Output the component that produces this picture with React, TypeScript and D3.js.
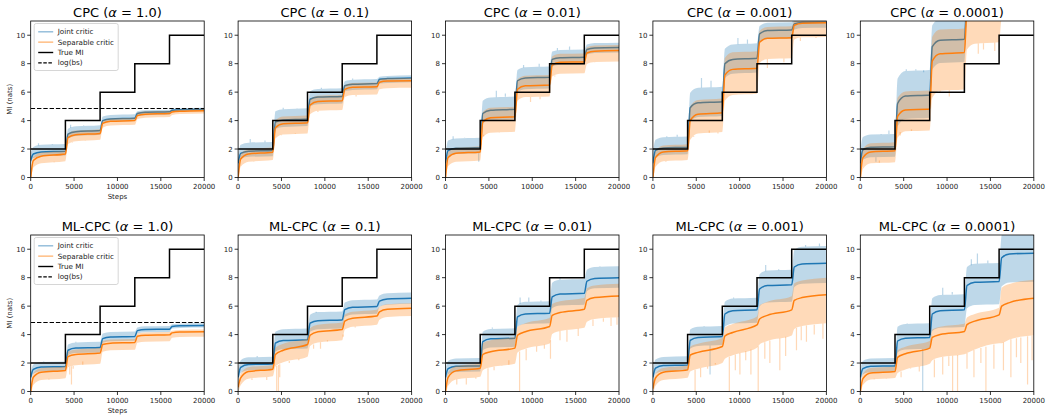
import React from "react";
import * as d3 from "d3";

// segment layout of the true-MI staircase
const SEG_STARTS = [0, 4000, 8000, 12000, 16000];
const SAMPLE_OFFSETS = [300, 1200, 4000];
const TRUE_MI = [2, 4, 6, 8, 10];
const LOG_BS = 4.85;
const X_TICKS = [0, 5000, 10000, 15000, 20000];
const Y_TICKS = [0, 2, 4, 6, 8, 10];
const ALPHAS = ["1.0", "0.1", "0.01", "0.001", "0.0001"];
const METHODS = ["CPC", "ML-CPC"];

// smoothed estimates: per panel, per segment [at +300, at +1200, at end]
const CPC_JOINT_START = [1.2, 1.0, 1.0, 1.0, 1.0];
const CPC_JOINT = [
  [[1.65, 1.8, 1.85], [3.05, 3.22, 3.3], [4.0, 4.12, 4.17], [4.5, 4.58, 4.62], [4.72, 4.77, 4.8]],
  [[1.7, 1.85, 1.9], [3.9, 4.05, 4.12], [5.5, 5.65, 5.7], [6.45, 6.55, 6.6], [6.9, 6.95, 7.0]],
  [[1.9, 2.05, 2.1], [4.5, 4.72, 4.8], [6.8, 7.0, 7.05], [8.3, 8.42, 8.45], [9.0, 9.1, 9.13]],
  [[1.9, 2.08, 2.13], [4.9, 5.25, 5.33], [8.0, 8.3, 8.38], [10.1, 10.33, 10.37], [10.8, 10.9, 10.92]],
  [[1.95, 2.12, 2.16], [5.2, 5.72, 5.8], [9.2, 9.65, 9.72], [12.5, 12.8, 12.9], [13.5, 13.6, 13.6]],
];
const CPC_SEP_START = [0.0, 0.0, 0.0, 0.0, 0.0];
const CPC_SEP = [
  [[1.2, 1.5, 1.65], [2.8, 3.0, 3.1], [3.8, 3.95, 4.0], [4.35, 4.45, 4.5], [4.6, 4.66, 4.7]],
  [[1.3, 1.65, 1.78], [3.5, 3.78, 3.85], [5.1, 5.35, 5.4], [6.2, 6.35, 6.38], [6.7, 6.78, 6.8]],
  [[1.4, 1.7, 1.8], [3.9, 4.2, 4.27], [6.2, 6.45, 6.5], [7.9, 8.1, 8.12], [8.75, 8.88, 8.92]],
  [[1.4, 1.8, 1.88], [4.0, 4.45, 4.55], [7.2, 7.6, 7.68], [9.5, 9.78, 9.83], [10.7, 10.85, 10.88]],
  [[1.4, 1.8, 1.88], [4.3, 4.75, 4.81], [8.2, 8.7, 8.78], [11.8, 12.2, 12.3], [13.0, 13.2, 13.3]],
];
const ML_JOINT_START = [1.0, 1.0, 1.0, 1.0, 1.0];
const ML_JOINT = [
  [[1.55, 1.72, 1.76], [2.9, 3.05, 3.09], [3.72, 3.83, 3.86], [4.28, 4.36, 4.38], [4.57, 4.62, 4.64]],
  [[1.7, 1.9, 1.94], [3.4, 3.58, 3.63], [4.8, 4.98, 5.03], [5.75, 5.92, 5.97], [6.35, 6.5, 6.56]],
  [[1.6, 1.77, 1.8], [3.5, 3.7, 3.75], [5.25, 5.45, 5.5], [6.65, 6.85, 6.9], [7.75, 7.95, 8.0]],
  [[1.65, 1.83, 1.87], [3.6, 3.8, 3.86], [5.45, 5.68, 5.74], [7.2, 7.45, 7.5], [8.75, 8.97, 9.02]],
  [[1.6, 1.77, 1.8], [3.55, 3.75, 3.8], [5.45, 5.68, 5.74], [7.45, 7.68, 7.73], [9.4, 9.67, 9.72]],
];
const ML_SEP_START = [0.0, 0.3, 0.0, 0.2, 0.0];
const ML_SEP = [
  [[1.0, 1.35, 1.48], [2.45, 2.6, 2.7], [3.3, 3.4, 3.44], [3.88, 3.95, 3.98], [4.12, 4.18, 4.2]],
  [[0.95, 1.4, 1.57], [2.6, 2.9, 3.3], [3.95, 4.2, 4.35], [4.95, 5.15, 5.3], [5.6, 5.78, 5.85]],
  [[1.0, 1.45, 1.64], [2.6, 2.8, 3.05], [3.95, 4.2, 4.57], [5.35, 5.55, 5.78], [6.4, 6.6, 6.72]],
  [[0.95, 1.35, 1.52], [2.55, 2.75, 3.16], [3.9, 4.15, 4.68], [5.1, 5.35, 5.74], [6.4, 6.6, 6.8]],
  [[0.9, 1.3, 1.4], [2.4, 2.65, 3.05], [3.8, 4.0, 4.22], [4.7, 4.95, 5.39], [6.0, 6.25, 6.56]],
];

// spread of the raw traces below / above the estimate, per segment
const CPC_JOINT_LO = [[0.3, 0.3, 0.2, 0.2, 0.12], [0.4, 0.5, 0.5, 0.4, 0.3], [0.4, 0.7, 0.8, 0.5, 0.35], [0.5, 1.0, 1.0, 0.6, 0.4], [0.7, 1.6, 1.6, 1.5, 1.0]];
const CPC_JOINT_HI = [[0.5, 0.38, 0.28, 0.15, 0.1], [0.6, 0.75, 0.57, 0.32, 0.18], [0.7, 0.9, 0.75, 0.55, 0.35], [0.75, 1.05, 1.05, 0.55, 0.4], [0.9, 1.76, 1.5, 1.0, 1.0]];
const CPC_SEP_LO = [[0.5, 0.45, 0.3, 0.25, 0.2], [0.55, 0.75, 0.65, 0.55, 0.5], [0.6, 1.05, 0.8, 0.8, 0.77], [0.65, 1.35, 1.8, 1.45, 1.0], [0.8, 1.5, 2.6, 2.8, 1.8]];
const CPC_SEP_HI = [[0.25, 0.3, 0.2, 0.2, 0.12], [0.35, 0.5, 0.4, 0.3, 0.2], [0.4, 0.7, 0.7, 0.6, 0.4], [0.45, 1.0, 1.2, 0.8, 0.3], [0.6, 1.3, 1.7, 1.0, 1.0]];
const ML_JOINT_LO = [[0.3, 0.35, 0.3, 0.2, 0.15], [0.4, 0.6, 0.6, 0.5, 0.4], [0.4, 0.6, 0.7, 0.8, 0.7], [0.4, 0.6, 0.9, 1.2, 1.4], [0.4, 0.8, 1.2, 1.6, 2.0]];
const ML_JOINT_HI = [[0.35, 0.4, 0.35, 0.22, 0.15], [0.5, 0.8, 0.6, 0.5, 0.4], [0.55, 0.7, 0.85, 1.0, 0.8], [0.6, 0.75, 0.85, 1.05, 1.2], [0.55, 1.0, 1.1, 1.3, 1.6]];
const ML_SEP_LO = [[0.55, 0.75, 0.5, 0.45, 0.35], [0.5, 0.85, 0.75, 0.6, 0.55], [0.6, 1.1, 1.2, 1.3, 1.5], [0.55, 1.15, 1.6, 1.8, 2.0], [0.45, 1.1, 1.6, 2.0, 2.6]];
const ML_SEP_HI = [[0.3, 0.35, 0.25, 0.2, 0.15], [0.3, 0.45, 0.5, 0.45, 0.35], [0.35, 0.8, 0.6, 0.8, 0.85], [0.3, 0.6, 0.6, 0.95, 1.2], [0.35, 0.5, 0.55, 0.5, 1.3]];

// isolated excursions of the raw traces: [step, value]
const CPC_JOINT_SPIKES = [
  [[900, 2.4], [2500, 2.35], [4600, 3.7], [6100, 3.65]],
  [[1400, 2.7], [3100, 2.6], [5200, 4.9], [6800, 4.85], [9600, 6.3], [13200, 6.95]],
  [[880, 2.9], [2200, 2.8], [5860, 6.1], [6900, 5.9], [3830, 1.1], [9000, 7.9], [10800, 8.0], [12900, 9.1], [14300, 9.2]],
  [[1600, 2.9], [2800, 3.0], [5600, 7.0], [6700, 6.8], [9800, 9.8], [10900, 9.7]],
  [[3300, 3.3], [2400, 3.0], [5300, 7.6], [6400, 7.6], [7300, 7.4], [1800, 1.1]],
];
const CPC_SEP_SPIKES = [
  [[1200, 1.0], [2700, 1.1], [4800, 2.5], [6300, 2.6]],
  [[1800, 1.1], [5000, 3.0], [6600, 3.1], [9200, 4.6], [13600, 5.7]],
  [[1300, 1.1], [4400, 3.0], [6200, 3.2], [9800, 5.3], [10900, 5.5], [12600, 7.1], [17200, 8.1]],
  [[1500, 1.1], [4700, 2.9], [6500, 3.3], [7500, 3.1], [9300, 5.8], [13200, 7.7], [15100, 8.1], [17000, 9.6], [18800, 9.8]],
  [[2200, 1.2], [4600, 3.2], [5900, 3.4], [10260, 5.7], [9200, 6.0], [13600, 8.7], [14200, 9.0], [15500, 8.9]],
];
const ML_JOINT_SPIKES = [
  [[1500, 2.1], [5200, 3.5]],
  [[2200, 2.5], [5800, 4.4], [9000, 5.6]],
  [[5400, 4.5], [8600, 6.6], [9600, 6.6], [11000, 6.4], [13200, 8.0], [17800, 8.8]],
  [[6590, 1.2], [5900, 4.6], [9300, 6.6], [13000, 8.9], [14500, 8.6], [17600, 10.3], [19200, 10.4]],
  [[7195, 0.0], [5400, 4.8], [9500, 7.3], [10600, 7.0], [13500, 9.7], [12800, 9.3], [14700, 9.2]],
];
const ML_SEP_SPIKES = [
  [[4700, 0.5], [4500, 1.2], [2100, 0.9], [4900, 1.6], [1200, 0.8], [6000, 2.1], [9200, 2.9]],
  [[4450, 0.0], [4650, 0.0], [4800, 1.0], [3300, 0.8], [1600, 0.8], [5900, 2.0], [7000, 2.2], [8700, 3.0], [9500, 3.0], [10300, 3.6], [12100, 4.0], [13500, 4.5]],
  [[1300, 0.5], [2400, 0.5], [3500, 0.9], [4900, 0.0], [5600, 1.5], [6500, 1.8], [7300, 2.2], [8540, 0.0], [9300, 2.2], [10500, 2.8], [11400, 3.0], [12100, 2.3], [13200, 3.6], [14000, 3.5], [15300, 3.9], [17000, 4.6], [18200, 4.9], [19080, 4.6], [19770, 4.7]],
  [[1400, 0.8], [2900, 0.9], [4862, 0.0], [5500, 1.0], [6300, 1.6], [7200, 2.0], [8810, 0.0], [9500, 1.5], [10030, 1.2], [10700, 2.2], [11300, 1.2], [12140, 0.0], [12900, 2.3], [13480, 2.0], [14630, 1.5], [15300, 2.5], [16550, 2.9], [17100, 3.6], [17700, 3.5], [18600, 4.0], [19600, 3.7]],
  [[1600, 0.9], [3000, 0.9], [4700, 1.0], [5800, 1.6], [6800, 1.4], [8540, 1.0], [9500, 1.2], [10200, 1.8], [10640, 0.0], [11210, 0.0], [12300, 1.6], [13100, 1.0], [13900, 2.0], [14480, 0.0], [15400, 1.6], [16500, 1.5], [17360, 1.0], [18000, 2.4], [18500, 2.0], [19280, 0.5], [19800, 2.2]],
];

const BLUE = "#1f77b4";
const ORANGE = "#ff7f0e";
const FONT = "DejaVu Sans, sans-serif";

const PANEL_LEFT = 30.7;
const PANEL_STEP = 207.4;
const PANEL_W = 173.5;
const ROW_TOP = [21, 235];
const PANEL_H = 156.5;

type Pt = [number, number];
type BandPt = { s: number; lo: number; hi: number };

function buildPoints(start: number, segs: number[][]): { pts: Pt[]; seg: number[] } {
  const pts: Pt[] = [[0, start]];
  const seg: number[] = [0];
  SEG_STARTS.forEach((s, k) => {
    SAMPLE_OFFSETS.forEach((o, j) => {
      pts.push([s + o, segs[k][j]]);
      seg.push(k);
    });
  });
  return { pts, seg };
}

function interp(pts: Pt[], x: number) {
  for (let i = 1; i < pts.length; i++) {
    if (x <= pts[i][0]) {
      const [x0, y0] = pts[i - 1];
      const [x1, y1] = pts[i];
      return y0 + ((y1 - y0) * (x - x0)) / (x1 - x0);
    }
  }
  return pts[pts.length - 1][1];
}

interface SeriesProps {
  start: number;
  segs: number[][];
  lo: number[];
  hi: number[];
  spikes: number[][];
  color: string;
  x: d3.ScaleLinear<number, number>;
  y: d3.ScaleLinear<number, number>;
}

const Series: React.FC<SeriesProps> = ({ start, segs, lo, hi, spikes, color, x, y }) => {
  const { pts, seg } = buildPoints(start, segs);
  const band: BandPt[] = pts.map((p, i) => ({ s: p[0], lo: p[1] - lo[seg[i]], hi: p[1] + hi[seg[i]] }));
  const area = d3
    .area<BandPt>()
    .x((d) => x(d.s))
    .y0((d) => y(d.lo))
    .y1((d) => y(d.hi))
    .curve(d3.curveMonotoneX);
  const line = d3
    .line<Pt>()
    .x((d) => x(d[0]))
    .y((d) => y(d[1]))
    .curve(d3.curveMonotoneX);
  const loPts: Pt[] = band.map((b) => [b.s, b.lo]);
  const hiPts: Pt[] = band.map((b) => [b.s, b.hi]);
  return (
    <g>
      <path d={area(band) ?? ""} fill={color} fillOpacity={0.29} />
      {spikes.map(([s, v], i) => {
        const mean = interp(pts, s);
        const edge = v < mean ? interp(loPts, s) : interp(hiPts, s);
        return (
          <line
            key={i}
            x1={x(s)}
            x2={x(s)}
            y1={y(edge)}
            y2={y(v)}
            stroke={color}
            strokeOpacity={0.3}
            strokeWidth={1.2}
          />
        );
      })}
      <path d={line(pts) ?? ""} fill="none" stroke={color} strokeWidth={1.5} />
    </g>
  );
};

const Legend: React.FC<{ x0: number; y0: number }> = ({ x0, y0 }) => {
  const items = [
    { label: "Joint critic", color: BLUE, opacity: 0.5, dash: undefined as string | undefined },
    { label: "Separable critic", color: ORANGE, opacity: 0.55, dash: undefined },
    { label: "True MI", color: "#000", opacity: 1, dash: undefined },
    { label: "log(bs)", color: "#000", opacity: 1, dash: "3.5,1.6" },
  ];
  return (
    <g transform={`translate(${x0},${y0})`}>
      <rect x={0} y={0} width={84} height={47} rx={2} fill="#fff" fillOpacity={0.8} stroke="#ccc" strokeWidth={0.8} />
      {items.map((it, i) => (
        <g key={it.label} transform={`translate(0,${8.3 + i * 10.35})`}>
          <line x1={4} x2={19} y1={0} y2={0} stroke={it.color} strokeOpacity={it.opacity} strokeWidth={1.4} strokeDasharray={it.dash} />
          <text x={23.5} y={2.5} fontSize={7.2} fontFamily={FONT} fill="#222">
            {it.label}
          </text>
        </g>
      ))}
    </g>
  );
};

const Panel: React.FC<{ row: number; col: number }> = ({ row, col }) => {
  const left = PANEL_LEFT + col * PANEL_STEP;
  const top = ROW_TOP[row];
  const x = d3.scaleLinear().domain([0, 20000]).range([left, left + PANEL_W]);
  const y = d3.scaleLinear().domain([0, 11]).range([top + PANEL_H, top]);
  const isCpc = row === 0;
  const clipId = `clip-${row}-${col}`;

  const trueLine = d3
    .line<number>()
    .x((_, i) => x(SEG_STARTS[i] ?? 20000))
    .y((d) => y(d))
    .curve(d3.curveStepAfter);
  const trueVals = [...TRUE_MI, TRUE_MI[TRUE_MI.length - 1]];

  return (
    <g>
      <defs>
        <clipPath id={clipId}>
          <rect x={left} y={top} width={PANEL_W} height={PANEL_H} />
        </clipPath>
      </defs>
      <g clipPath={`url(#${clipId})`}>
        <Series
          start={isCpc ? CPC_JOINT_START[col] : ML_JOINT_START[col]}
          segs={isCpc ? CPC_JOINT[col] : ML_JOINT[col]}
          lo={isCpc ? CPC_JOINT_LO[col] : ML_JOINT_LO[col]}
          hi={isCpc ? CPC_JOINT_HI[col] : ML_JOINT_HI[col]}
          spikes={isCpc ? CPC_JOINT_SPIKES[col] : ML_JOINT_SPIKES[col]}
          color={BLUE}
          x={x}
          y={y}
        />
        <Series
          start={isCpc ? CPC_SEP_START[col] : ML_SEP_START[col]}
          segs={isCpc ? CPC_SEP[col] : ML_SEP[col]}
          lo={isCpc ? CPC_SEP_LO[col] : ML_SEP_LO[col]}
          hi={isCpc ? CPC_SEP_HI[col] : ML_SEP_HI[col]}
          spikes={isCpc ? CPC_SEP_SPIKES[col] : ML_SEP_SPIKES[col]}
          color={ORANGE}
          x={x}
          y={y}
        />
        <path d={trueLine(trueVals) ?? ""} fill="none" stroke="#000" strokeWidth={1.5} />
        {col === 0 && (
          <line x1={x(0)} x2={x(20000)} y1={y(LOG_BS)} y2={y(LOG_BS)} stroke="#000" strokeWidth={1.2} strokeDasharray="4.4,1.9" />
        )}
      </g>
      <rect x={left} y={top} width={PANEL_W} height={PANEL_H} fill="none" stroke="#000" strokeWidth={0.8} />
      {X_TICKS.map((t) => (
        <g key={`x${t}`}>
          <line x1={x(t)} x2={x(t)} y1={top + PANEL_H} y2={top + PANEL_H + 3.5} stroke="#000" strokeWidth={0.8} />
          <text x={x(t)} y={top + PANEL_H + 11.5} textAnchor="middle" fontSize={7} fontFamily={FONT} fill="#222">
            {t}
          </text>
        </g>
      ))}
      {Y_TICKS.map((t) => (
        <g key={`y${t}`}>
          <line x1={left - 3.5} x2={left} y1={y(t)} y2={y(t)} stroke="#000" strokeWidth={0.8} />
          <text x={left - 5.5} y={y(t) + 2.5} textAnchor="end" fontSize={7} fontFamily={FONT} fill="#222">
            {t}
          </text>
        </g>
      ))}
      <text x={left + PANEL_W / 2} y={top - 4} textAnchor="middle" fontSize={13} fontFamily={FONT} fill="#000">
        {`${METHODS[row]} (`}
        <tspan fontStyle="italic">α</tspan>
        {` = ${ALPHAS[col]})`}
      </text>
      {col === 0 && (
        <>
          <text
            transform={`translate(${left - 19},${top + PANEL_H / 2}) rotate(-90)`}
            textAnchor="middle"
            fontSize={7}
            fontFamily={FONT}
            fill="#222"
          >
            MI (nats)
          </text>
          <text x={left + PANEL_W / 2} y={top + PANEL_H + 21} textAnchor="middle" fontSize={7} fontFamily={FONT} fill="#222">
            Steps
          </text>
          <Legend x0={left + 3.5} y0={top + 2.5} />
        </>
      )}
    </g>
  );
};

export default function App() {
  return (
    <svg
      width={1047}
      height={415}
      style={{ position: "absolute", left: 0, top: 0, background: "#fff" }}
    >
      {METHODS.map((_, row) =>
        ALPHAS.map((__, col) => <Panel key={`${row}-${col}`} row={row} col={col} />)
      )}
    </svg>
  );
}
